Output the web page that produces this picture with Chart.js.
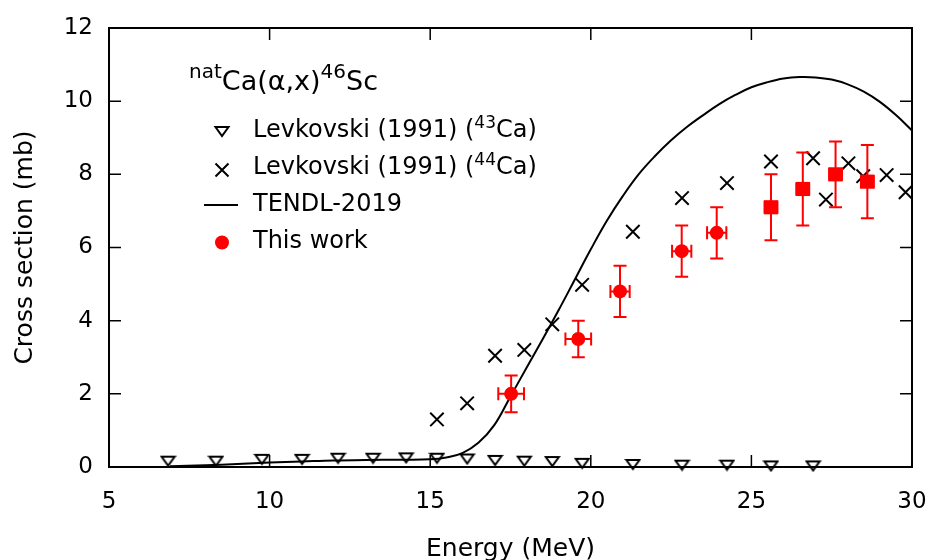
<!DOCTYPE html>
<html><head><meta charset="utf-8">
<script src="https://cdn.jsdelivr.net/npm/chart.js@4.4.1/dist/chart.umd.min.js"></script>
<style>
html,body{margin:0;padding:0;background:#fff;}
#wrap{position:relative;width:933px;height:560px;font-family:"DejaVu Sans",sans-serif;color:#000;overflow:hidden;}
#c{position:absolute;left:0;top:0;}
.t{position:absolute;white-space:nowrap;line-height:1;}
.sup{position:relative;line-height:0;}
svg.sym{position:absolute;overflow:visible;}
</style></head><body>
<div id="wrap">
<canvas id="c" width="933" height="560"></canvas>
<div class="t" style="left:189px;top:67px;font-size:27px;"><span class="sup" style="font-size:20px;top:-12px;">nat</span>Ca(α,x)<span class="sup" style="font-size:20px;top:-12px;">46</span>Sc</div>
<svg class="sym" style="left:0;top:0" width="933" height="560">
  <polygon points="215.5,127 228.5,127 222,136" fill="none" stroke="#000" stroke-width="2"/>
  <path d="M215.5,163.5 L228.5,176.5 M228.5,163.5 L215.5,176.5" stroke="#000" stroke-width="2"/>
  <line x1="204" y1="205" x2="238" y2="205" stroke="#000" stroke-width="2"/>
  <circle cx="222" cy="242.5" r="7" fill="#ff0000"/>
</svg>
<div class="t" style="left:253px;top:117px;font-size:24px;">Levkovski (1991) (<span class="sup" style="font-size:17px;top:-9px;">43</span>Ca)</div>
<div class="t" style="left:253px;top:154px;font-size:24px;">Levkovski (1991) (<span class="sup" style="font-size:17px;top:-9px;">44</span>Ca)</div>
<div class="t" style="left:253px;top:191px;font-size:24px;">TENDL-2019</div>
<div class="t" style="left:253px;top:228px;font-size:24px;">This work</div>
</div>
<script>
// ---- data ----
const lev43E = [6.84, 8.33, 9.76, 11.01, 12.13, 13.22, 14.25, 15.21, 16.15, 17.02, 17.93, 18.80, 19.73, 21.31, 22.84, 24.24, 25.61, 26.92];
const lev43S = [0.16, 0.16, 0.21, 0.21, 0.24, 0.24, 0.25, 0.24, 0.22, 0.18, 0.16, 0.15, 0.10, 0.07, 0.05, 0.05, 0.03, 0.03];
const lev44E = [15.21, 16.15, 17.02, 17.93, 18.80, 19.73, 21.31, 22.84, 24.24, 25.61, 26.92, 27.32, 28.02, 28.48, 29.21, 29.80];
const lev44S = [1.30, 1.74, 3.04, 3.20, 3.90, 4.98, 6.43, 7.35, 7.76, 8.35, 8.44, 7.31, 8.30, 7.95, 7.98, 7.51];
const tendlE = [6.9, 8, 9, 10, 11, 12, 13, 14, 15, 15.5, 16, 16.5, 17, 17.5, 18, 18.5, 19, 19.5, 20, 20.5, 21, 21.5, 22, 22.5, 23, 23.5, 24, 24.5, 25, 25.5, 26, 26.5, 27, 27.5, 28, 28.5, 29, 29.5, 30];
const tendlS = [0.02, 0.05, 0.08, 0.12, 0.15, 0.18, 0.19, 0.20, 0.21, 0.26, 0.38, 0.66, 1.15, 1.93, 2.71, 3.49, 4.29, 5.12, 5.95, 6.73, 7.41, 8.01, 8.5, 8.93, 9.3, 9.62, 9.92, 10.17, 10.38, 10.52, 10.62, 10.66, 10.65, 10.59, 10.46, 10.26, 9.98, 9.62, 9.2];
const workE  = [17.52, 19.61, 20.91, 22.83, 23.92, 25.61, 26.60, 27.62, 28.61];
const workS  = [2.0, 3.5, 4.8, 5.9, 6.4, 7.1, 7.6, 8.0, 7.8];
const workDS = [0.5, 0.5, 0.7, 0.7, 0.7, 0.9, 1.0, 0.9, 1.0];
const workDE = [0.4, 0.4, 0.3, 0.3, 0.3, 0.2, 0.2, 0.2, 0.2];
const xTicks = [5, 10, 15, 20, 25, 30];
const yTicks = [0, 2, 4, 6, 8, 10, 12];

const pts = (xs, ys) => xs.map((v, i) => ({x: v, y: ys[i]}));

function makeTri(w, h, lw) {
  const c = document.createElement('canvas');
  c.width = w + lw * 2; c.height = h + lw * 2;
  const g = c.getContext('2d');
  g.strokeStyle = '#000'; g.lineWidth = lw;
  g.beginPath(); g.moveTo(lw, lw); g.lineTo(lw + w, lw); g.lineTo(lw + w / 2, lw + h); g.closePath(); g.stroke();
  return c;
}
const triImg = makeTri(13, 9, 2);

const errorBars = {
  id: 'errorBars',
  afterDatasetsDraw(chart) {
    const {ctx, scales: {x, y}} = chart;
    ctx.save();
    ctx.strokeStyle = '#ff0000'; ctx.lineWidth = 2;
    const cap = 6.5;
    workE.forEach((e, i) => {
      const px = x.getPixelForValue(e), py = y.getPixelForValue(workS[i]);
      const y1 = y.getPixelForValue(workS[i] + workDS[i]), y2 = y.getPixelForValue(workS[i] - workDS[i]);
      const x1 = x.getPixelForValue(e - workDE[i]), x2 = x.getPixelForValue(e + workDE[i]);
      ctx.beginPath();
      ctx.moveTo(px, y1); ctx.lineTo(px, y2);
      ctx.moveTo(px - cap, y1); ctx.lineTo(px + cap, y1);
      ctx.moveTo(px - cap, y2); ctx.lineTo(px + cap, y2);
      ctx.moveTo(x1, py); ctx.lineTo(x2, py);
      ctx.moveTo(x1, py - cap); ctx.lineTo(x1, py + cap);
      ctx.moveTo(x2, py - cap); ctx.lineTo(x2, py + cap);
      ctx.stroke();
    });
    ctx.restore();
  }
};

const frame = {
  id: 'frame',
  afterDatasetsDraw(chart) {
    const {ctx, chartArea: a, scales: {x, y}} = chart;
    ctx.save();
    ctx.strokeStyle = '#000'; ctx.lineWidth = 1.5;
    const L = 12;
    ctx.beginPath();
    xTicks.forEach(v => {
      const px = x.getPixelForValue(v);
      ctx.moveTo(px, a.bottom); ctx.lineTo(px, a.bottom - L);
      ctx.moveTo(px, a.top); ctx.lineTo(px, a.top + L);
    });
    yTicks.forEach(v => {
      const py = y.getPixelForValue(v);
      ctx.moveTo(a.left, py); ctx.lineTo(a.left + L, py);
      ctx.moveTo(a.right, py); ctx.lineTo(a.right - L, py);
    });
    ctx.stroke();
    ctx.lineWidth = 2;
    ctx.strokeRect(a.left, a.top, a.right - a.left, a.bottom - a.top);
    ctx.restore();
  }
};

new Chart(document.getElementById('c'), {
  type: 'scatter',
  data: {
    datasets: [
      {label: 'This work', data: pts(workE, workS), order: 0, clip: false,
       pointStyle: c => workDE[c.dataIndex] < 0.25 ? 'rect' : 'circle',
       pointRadius: c => workDE[c.dataIndex] < 0.25 ? 10 : 7,
       backgroundColor: '#ff0000', borderColor: '#ff0000', borderWidth: 0},
      {label: 'TENDL-2019', data: pts(tendlE, tendlS), order: 1, showLine: true,
       pointRadius: 0, borderColor: '#000', borderWidth: 2, tension: 0.4, clip: false},
      {label: 'Levkovski (1991) (44Ca)', data: pts(lev44E, lev44S), order: 2, clip: false,
       pointStyle: 'crossRot', pointRadius: 9.5, borderColor: '#000', borderWidth: 2, backgroundColor: '#000'},
      {label: 'Levkovski (1991) (43Ca)', data: pts(lev43E, lev43S), order: 3, clip: false,
       pointStyle: triImg, pointRadius: 7, borderColor: '#000'}
    ]
  },
  options: {
    responsive: false, animation: false, devicePixelRatio: 1,
    layout: {padding: {top: 28, right: 21, left: 0, bottom: 0}},
    plugins: {legend: {display: false}, tooltip: {enabled: false}},
    scales: {
      x: {
        type: 'linear', min: 5, max: 30,
        afterBuildTicks: s => { s.ticks = xTicks.map(v => ({value: v})); },
        afterFit: s => { s.height = 93; s.paddingLeft = 0; s.paddingRight = 0; },
        grid: {display: false, drawTicks: false}, border: {display: false},
        ticks: {color: '#000', padding: 21, font: {family: 'DejaVu Sans', size: 23}, maxRotation: 0},
        title: {display: true, text: 'Energy (MeV)', color: '#000', font: {family: 'DejaVu Sans', size: 25}, padding: {top: 0, bottom: -4}}
      },
      y: {
        type: 'linear', min: 0, max: 12,
        afterBuildTicks: s => { s.ticks = yTicks.map(v => ({value: v})); },
        afterFit: s => { s.width = 109; s.paddingTop = 0; s.paddingBottom = 0; },
        grid: {display: false, drawTicks: false}, border: {display: false},
        ticks: {color: '#000', padding: 16, font: {family: 'DejaVu Sans', size: 23}},
        title: {display: true, text: 'Cross section (mb)', color: '#000', font: {family: 'DejaVu Sans', size: 25}, padding: {top: 10, bottom: 0}}
      }
    }
  },
  plugins: [errorBars, frame]
});
</script>
</body></html>
